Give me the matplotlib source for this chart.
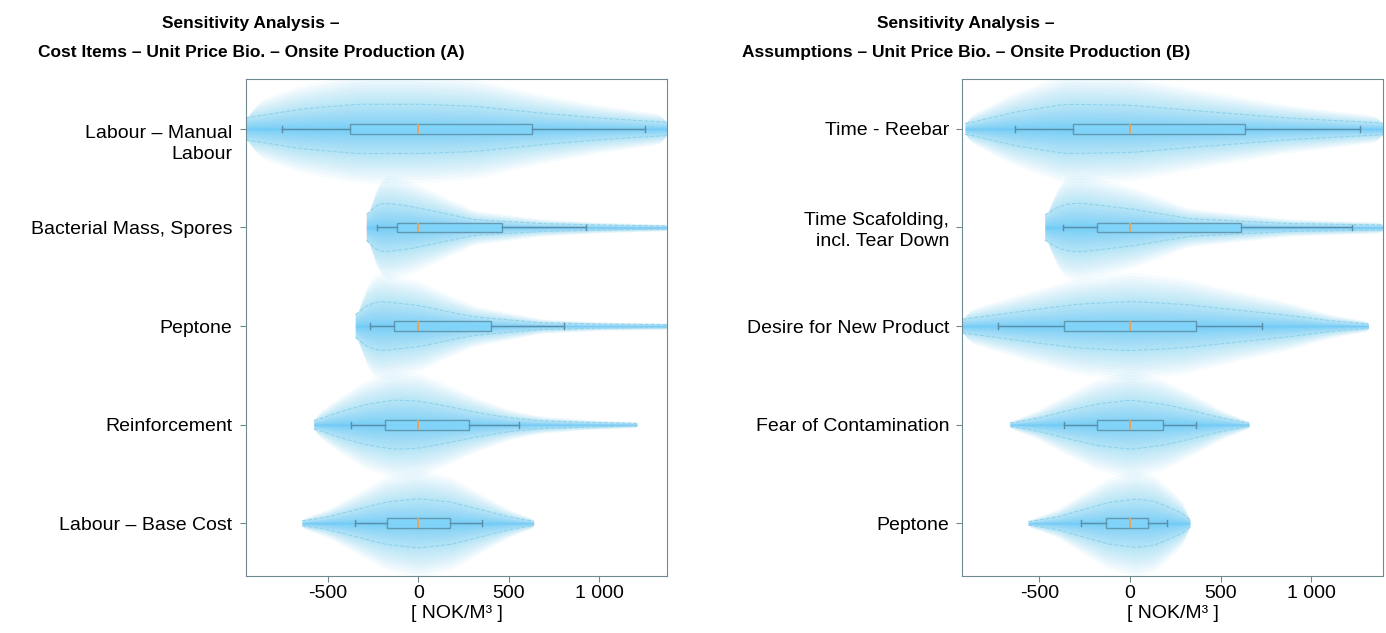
import numpy as np
import matplotlib
import matplotlib.pyplot as plt
from matplotlib.transforms import ScaledTranslation

plt.rcParams["font.family"] = ["Liberation Sans", "DejaVu Sans"]

# ---- Panel A: cost items ----
labels_a = ["Labour – Manual\nLabour", "Bacterial Mass, Spores", "Peptone",
            "Reinforcement", "Labour – Base Cost"]
# box stats: whisker low, q1, median, q3, whisker high  [NOK/m3]
box_a = [
    [-753, -376, 0, 628, 1254],
    [-228, -118, 0, 462, 927],
    [-269, -133, 0, 401, 803],
    [-372, -182, 0, 278, 554],
    [-348, -173, 0, 173, 352],
]
# violin outline: value and half width (row units)
vx_a = [
    [-955, -652, -337, 0, 304, 674, 1000, 1376],
    [-287, -270, -230, -200, -61, 100, 304, 674, 1000, 1376],
    [-348, -320, -260, -210, 0, 150, 304, 674, 1000, 1376],
    [-578, -450, -300, -138, 0, 150, 304, 500, 674, 900, 1208],
    [-643, -500, -348, -180, 0, 180, 348, 500, 637],
]
vw_a = [
    [0.11, 0.20, 0.25, 0.25, 0.23, 0.16, 0.11, 0.066],
    [0.10, 0.17, 0.23, 0.25, 0.22, 0.16, 0.08, 0.04, 0.025, 0.015],
    [0.09, 0.17, 0.23, 0.25, 0.21, 0.15, 0.095, 0.034, 0.02, 0.015],
    [0.037, 0.12, 0.20, 0.25, 0.24, 0.19, 0.13, 0.07, 0.04, 0.025, 0.013],
    [0.022, 0.065, 0.135, 0.215, 0.25, 0.215, 0.135, 0.065, 0.02],
]

# ---- Panel B: assumptions ----
labels_b = ["Time - Reebar", "Time Scafolding,\nincl. Tear Down",
            "Desire for New Product", "Fear of Contamination", "Peptone"]
box_b = [
    [-635, -316, 0, 635, 1270],
    [-372, -184, 0, 613, 1224],
    [-727, -365, 0, 363, 727],
    [-363, -184, 0, 180, 363],
    [-272, -134, 0, 101, 206],
]
vx_b = [
    [-911, -635, -359, 0, 320, 872, 1395],
    [-470, -430, -370, -285, 0, 320, 872, 1395],
    [-926, -598, -300, 0, 300, 598, 872, 1100, 1316],
    [-663, -500, -359, -180, 0, 180, 359, 500, 657],
    [-562, -400, -267, -120, 28, 130, 212, 290, 331],
]
vw_b = [
    [0.05, 0.17, 0.25, 0.24, 0.19, 0.11, 0.058],
    [0.11, 0.18, 0.23, 0.25, 0.19, 0.09, 0.04, 0.025],
    [0.068, 0.15, 0.22, 0.25, 0.22, 0.16, 0.11, 0.055, 0.022],
    [0.015, 0.07, 0.135, 0.21, 0.25, 0.21, 0.135, 0.07, 0.015],
    [0.015, 0.065, 0.135, 0.21, 0.245, 0.225, 0.165, 0.10, 0.03],
]

xticks = [-500, 0, 500, 1000]
xticklabels = ["-500", "0", "500", "1 000"]

title_l1 = "Sensitivity Analysis –"
title_a = "Cost Items – Unit Price Bio. – Onsite Production (A)"
title_b = "Assumptions – Unit Price Bio. – Onsite Production (B)"

glow = "#4bc3f6"
dash_col = "#8fd2ec"
edge_col = "#5b8ea6"
spine_col = "#6e8a90"


def outline(xp, wp, n=400):
    xs = np.linspace(xp[0], xp[-1], n)
    ws = np.interp(xs, xp, wp)
    k = 31
    kern = np.hanning(k)
    kern /= kern.sum()
    ws = np.convolve(np.pad(ws, k // 2, mode="edge"), kern, mode="valid")
    return xs, ws


def end_round(hw_end, d_end):
    # rounds off a glow layer near an end that is cut off wide
    L = max(hw_end * 900, 1e-6)
    t = np.clip(d_end / L, 0, 1)
    return np.sqrt(1 - (1 - t) ** 2)


def panel(ax, labels, box, vx, vw, xlim):
    pos = np.arange(len(labels), 0, -1)
    # layer scales packed towards the middle so the glow fades outwards
    scales = 2.2 * np.linspace(1, 0.03, 32) ** 2
    for p, xp, wp in zip(pos, vx, vw):
        xs, ws = outline(xp, wp)
        dl = xs - xs[0]
        dr = xs[-1] - xs
        for s in scales:
            f = np.ones_like(xs)
            if s > 1:
                f = end_round((s - 1) * ws[0], dl) * end_round((s - 1) * ws[-1], dr)
            w = np.maximum(s * ws * f, min(s, 1.0) * ws)
            ax.fill_between(xs, p - w, p + w, color=glow,
                            alpha=0.045, lw=0, zorder=1)
        ax.plot(xs, p + ws, ls="--", color=dash_col, lw=0.8, zorder=2)
        ax.plot(xs, p - ws, ls="--", color=dash_col, lw=0.8, zorder=2)

    stats = [dict(whislo=b[0], q1=b[1], med=b[2], q3=b[3], whishi=b[4])
             for b in box]
    ax.bxp(stats, positions=pos, widths=0.1, orientation="horizontal",
           patch_artist=True, showfliers=False, manage_ticks=False,
           capwidths=0.06,
           boxprops=dict(facecolor="#82d5fa", edgecolor=edge_col, lw=1.0, alpha=0.85),
           whiskerprops=dict(color=edge_col, lw=1.0),
           capprops=dict(color=edge_col, lw=1.0),
           medianprops=dict(color="#f0a050", lw=1.3), zorder=3)

    ax.set_xlim(*xlim)
    ax.set_ylim(0.47, 5.51)
    ax.set_xticks(xticks, labels=xticklabels)
    ax.set_yticks(pos, labels=labels)
    ax.tick_params(axis="both", labelsize=14, color=spine_col, length=4)
    ax.tick_params(axis="y", pad=5.5)
    ax.tick_params(axis="x", pad=3)
    for tl in ax.get_yticklabels():
        tl.set_linespacing(1.28)
    for sp in ax.spines.values():
        sp.set_color(spine_col)
    ax.set_xlabel("[ NOK/M³ ]", fontsize=14, labelpad=2)


fig = plt.figure(figsize=(13.86, 6.33), dpi=100)
ax_a = fig.add_axes([0.1773, 0.0908, 0.3042, 0.785])
ax_b = fig.add_axes([0.6943, 0.0908, 0.3033, 0.785])

panel(ax_a, labels_a, box_a, vx_a, vw_a, (-954, 1376))
panel(ax_b, labels_b, box_b, vx_b, vw_b, (-926, 1395))

# first label on the left: first line sits on the tick
tl = ax_a.get_yticklabels()[0]
tl.set_transform(tl.get_transform() + ScaledTranslation(0, -0.11, fig.dpi_scale_trans))

tfont = dict(family="Liberation Sans", weight="bold",
             fontsize=12.5, ha="center", va="center")
fig.text(0.181, 0.963, title_l1, **tfont)
fig.text(0.181, 0.917, title_a, **tfont)
fig.text(0.697, 0.963, title_l1, **tfont)
fig.text(0.697, 0.917, title_b, **tfont)

plt.savefig("out.png", dpi=100)
